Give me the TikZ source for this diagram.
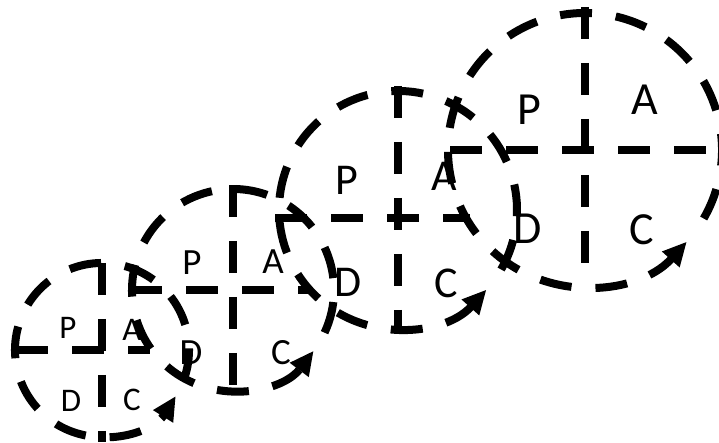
\documentclass[tikz,border=0pt]{standalone}
\usepackage{fontspec}
\setmainfont{Carlito}
\usetikzlibrary{arrows.meta}

\begin{document}
\begin{tikzpicture}[x=1pt, y=1pt, >={Triangle[length=24pt,width=22pt]},
  dashline/.style={line width=8pt, dash pattern=on 32pt off 24pt},
  letter/.style={inner sep=0pt}]
\useasboundingbox (0,0) rectangle (719,443);
% first turn
\draw[dashline,->] (102,93) ++(-20:87) arc[start angle=-20, end angle=328, radius=87];
\draw[dashline] (16,93) -- (150,93);
\draw[dashline] (102,180) -- (102,1);
\node[letter, font=\fontsize{33}{36}\selectfont] (p1) at (68,115) {P};
\node[letter, font=\fontsize{33}{36}\selectfont] (a1) at (132,113) {A};
\node[letter, font=\fontsize{33}{36}\selectfont] (d1) at (71,42) {D};
\node[letter, font=\fontsize{33}{36}\selectfont] (c1) at (132,43) {C};
% second turn
\draw[dashline,->] (233,153) ++(-25:101) arc[start angle=-25, end angle=323, radius=101];
\draw[dashline] (130,153) -- (308,153);
\draw[dashline] (233,258) -- (233,51);
\node[letter, font=\fontsize{37}{40}\selectfont] (p2) at (192,180) {P};
\node[letter, font=\fontsize{37}{40}\selectfont] (a2) at (273,181) {A};
\node[letter, font=\fontsize{37}{40}\selectfont] (d2) at (191,90) {D};
\node[letter, font=\fontsize{37}{40}\selectfont] (c2) at (281,90) {C};
% third turn
\draw[dashline,->] (398,233) ++(-30:119) arc[start angle=-30, end angle=318, radius=119];
\draw[dashline] (275,225) -- (470,225);
\draw[dashline] (398,357) -- (398,113);
\node[letter, font=\fontsize{44}{48}\selectfont] (p3) at (347,263) {P};
\node[letter, font=\fontsize{44}{48}\selectfont] (a3) at (444,267) {A};
\node[letter, font=\fontsize{44}{48}\selectfont] (d3) at (348,161) {D};
\node[letter, font=\fontsize{44}{48}\selectfont] (c3) at (446,160) {C};
% fourth turn
\draw[dashline,->] (585,293) ++(-30:137) arc[start angle=-30, end angle=318, radius=137];
\draw[dashline] (450,293) -- (722,293);
\draw[dashline] (585,436) -- (585,177);
\node[letter, font=\fontsize{46}{50}\selectfont] (p4) at (529,333) {P};
\node[letter, font=\fontsize{46}{50}\selectfont] (a4) at (645,343) {A};
\node[letter, font=\fontsize{46}{50}\selectfont] (d4) at (528,214) {D};
\node[letter, font=\fontsize{46}{50}\selectfont] (c4) at (642,213) {C};
\end{tikzpicture}
\end{document}
